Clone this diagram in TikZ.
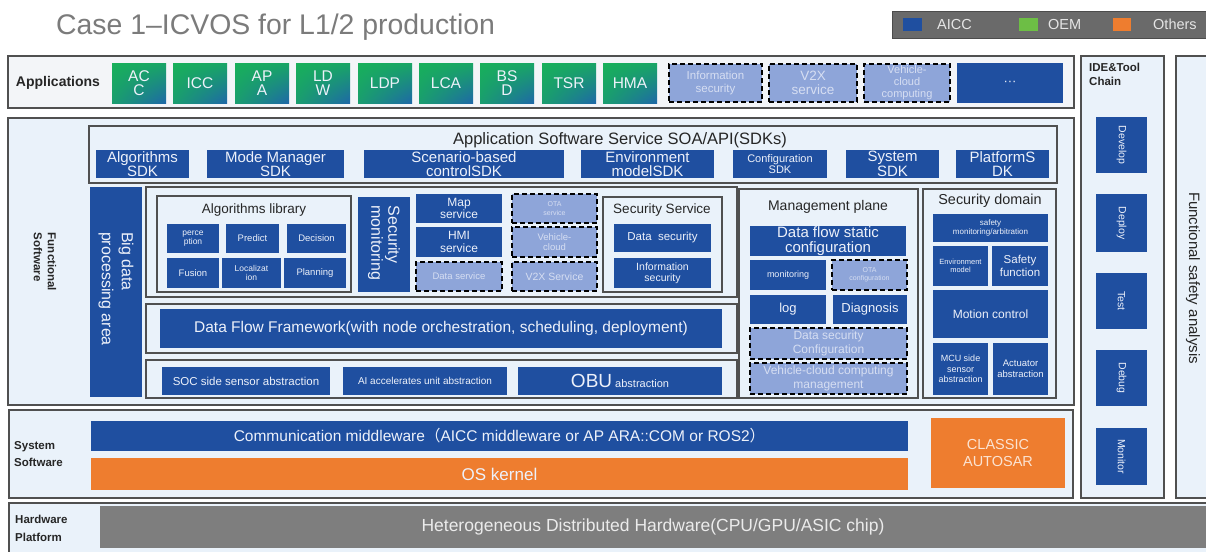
\documentclass[tikz,border=0pt]{standalone}
\usepackage{fontspec}
\setmainfont{Liberation Sans}
\newfontfamily\cjk{Noto Sans CJK SC}
\usetikzlibrary{shadings}

\definecolor{aicc}{HTML}{1F4FA0}
\definecolor{oemgreen}{HTML}{6DBE45}
\definecolor{others}{HTML}{EE7D2F}
\definecolor{dashfill}{HTML}{8EA5D9}
\definecolor{dashtext}{HTML}{D6DEF2}
\definecolor{panelbg}{HTML}{EAF2FA}
\definecolor{appbg}{HTML}{F3F5F8}
\definecolor{edge}{HTML}{505050}
\definecolor{hwgray}{HTML}{7E7E7E}
\definecolor{legendgray}{HTML}{6A6A6A}
\definecolor{titlegray}{HTML}{7B7B7B}
\definecolor{appgreen}{HTML}{18B05A}
\definecolor{appteal}{HTML}{1E68A8}
\definecolor{boxtext}{HTML}{EDF1FA}
\definecolor{inktext}{HTML}{262626}
\definecolor{autosartext}{HTML}{FBE3D2}

\newcommand\fs[2]{\fontsize{#1}{#2}\selectfont}

% box from (x1,y1) to (x2,y2) in pixel units, with a centred label node
% #1 box style, #2 label style, #3 name, #4..#7 corners, #8 label
\newcommand\bx[8]{%
  \node[#1,anchor=north west,inner sep=0pt,outer sep=0pt,
        minimum width={(#6-#4)*1pt},minimum height={(#7-#5)*1pt}] (#3) at (#4,#5) {};
  \node[#2] (#3-t) at (#3.center) {#8};}

\tikzset{
  panel/.style={draw=edge,line width=1.3pt,fill=panelbg},
  apppanel/.style={draw=edge,line width=1.3pt,fill=appbg},
  bbox/.style={fill=aicc},
  obox/.style={fill=others},
  dbox/.style={fill=dashfill,draw=black,line width=1.5pt,dash pattern=on 5pt off 3pt},
  gbox/.style={upper left=appgreen,upper right=appgreen!85!appteal,
               lower left=appgreen!75!appteal,lower right=appteal},
  wt/.style={text=boxtext,align=center,inner sep=0pt},
  dt/.style={text=dashtext,align=center,inner sep=0pt},
  kt/.style={text=inktext,align=center,inner sep=0pt},
  none/.style={},
}

\begin{document}
\begin{tikzpicture}[x=1pt,y=-1pt]
\useasboundingbox[fill=white] (0,0) rectangle (1206,551);

% ---------- heading and legend ----------
\node[anchor=base west,text=titlegray,font=\fs{28.4}{32},inner sep=0pt] (title) at (56,35)
  {Case 1–ICVOS for L1/2 production};
\bx{fill=legendgray,draw=black!70}{none}{legend}{892}{11}{1212}{38}{}
\bx{fill=aicc}{none}{lgA}{903}{18}{922}{31}{}
\bx{fill=oemgreen}{none}{lgO}{1019}{18}{1038}{31}{}
\bx{fill=others}{none}{lgX}{1113}{18}{1131}{31}{}
\node[anchor=west,text=white!90!black,font=\fs{14.5}{16},inner sep=0pt] (lgAt) at (937,24.5) {AICC};
\node[anchor=west,text=white!90!black,font=\fs{14.5}{16},inner sep=0pt] (lgOt) at (1048,24.5) {OEM};
\node[anchor=west,text=white!90!black,font=\fs{14.5}{16},inner sep=0pt] (lgXt) at (1153,24.5) {Others};

% ---------- Applications ----------
\bx{apppanel}{none}{apps}{8}{56}{1074}{108}{}
\node[kt,font=\bfseries\fs{14}{16}] (appslbl) at (58,83) {Applications};
\bx{gbox}{wt,font=\fs{15.5}{14}}{acc}{112}{63}{166}{103}{AC\\C}
\bx{gbox}{wt,font=\fs{15.5}{14}}{icc}{173}{63}{227}{103}{ICC}
\bx{gbox}{wt,font=\fs{15.5}{14}}{apa}{235}{63}{289}{103}{AP\\A}
\bx{gbox}{wt,font=\fs{15.5}{14}}{ldw}{296}{63}{350}{103}{LD\\W}
\bx{gbox}{wt,font=\fs{15.5}{14}}{ldp}{358}{63}{412}{103}{LDP}
\bx{gbox}{wt,font=\fs{15.5}{14}}{lca}{419}{63}{473}{103}{LCA}
\bx{gbox}{wt,font=\fs{15.5}{14}}{bsd}{480}{63}{534}{103}{BS\\D}
\bx{gbox}{wt,font=\fs{15.5}{14}}{tsr}{542}{63}{596}{103}{TSR}
\bx{gbox}{wt,font=\fs{15.5}{14}}{hma}{603}{63}{657}{103}{HMA}
\bx{dbox}{dt,font=\fs{11.5}{13}}{infosec}{669}{64}{762}{102}{Information\\security}
\bx{dbox}{dt,font=\fs{13.5}{14}}{v2x}{769}{64}{857}{102}{V2X\\service}
\bx{dbox}{dt,font=\fs{11}{12}}{vcc}{864}{64}{950}{102}{Vehicle-\\cloud\\computing}
\bx{bbox}{wt,font=\fs{13}{14}}{more}{957}{63}{1063}{103}{···}

% ---------- tool chain and safety columns ----------
\bx{panel}{none}{ide}{1081}{56}{1164}{498}{}
\node[kt,anchor=north west,align=left,font=\bfseries\fs{11.5}{13.5}] (idelbl) at (1089,63) {IDE\&Tool\\Chain};
\bx{bbox}{wt,rotate=-90,font=\fs{10.5}{12}}{develop}{1096}{117}{1147}{173}{Develop}
\bx{bbox}{wt,rotate=-90,font=\fs{10.5}{12}}{deploy}{1096}{194}{1147}{252}{Deploy}
\bx{bbox}{wt,rotate=-90,font=\fs{10.5}{12}}{test}{1096}{273}{1147}{329}{Test}
\bx{bbox}{wt,rotate=-90,font=\fs{10.5}{12}}{debug}{1096}{350}{1147}{406}{Debug}
\bx{bbox}{wt,rotate=-90,font=\fs{10.5}{12}}{monitor}{1096}{428}{1147}{485}{Monitor}
\bx{panel}{none}{fsa}{1176}{56}{1214}{498}{}
\node[kt,rotate=-90,font=\fs{15}{17}] (fsalbl) at (1193,278) {Functional safety analysis};

% ---------- Functional software ----------
\bx{panel}{none}{func}{8}{118}{1074}{405}{}
\node[kt,rotate=-90,align=left,font=\bfseries\fs{11.5}{14}] (funclbl) at (45,262) {Functional\\Software};

\bx{panel}{none}{soa}{89}{126}{1057}{183}{}
\node[kt,font=\fs{16.5}{18}] (soalbl) at (620,140) {Application Software Service SOA/API(SDKs)};
\bx{bbox}{wt,font=\fs{15}{13.5}}{algsdk}{96}{150}{189}{178}{Algorithms\\SDK}
\bx{bbox}{wt,font=\fs{15}{13.5}}{modesdk}{207}{150}{344}{178}{Mode Manager\\SDK}
\bx{bbox}{wt,font=\fs{15}{13.5}}{scensdk}{364}{150}{564}{178}{Scenario-based\\controlSDK}
\bx{bbox}{wt,font=\fs{15}{13.5}}{envsdk}{581}{150}{714}{178}{Environment\\modelSDK}
\bx{bbox}{wt,font=\fs{11}{11}}{cfgsdk}{733}{150}{827}{178}{Configuration\\SDK}
\bx{bbox}{wt,font=\fs{15}{13.5}}{syssdk}{846}{150}{939}{178}{System\\SDK}
\bx{bbox}{wt,font=\fs{15}{13.5}}{platsdk}{956}{150}{1049}{178}{PlatformS\\DK}

\bx{bbox}{none}{bigdata}{90}{187}{142}{397}{}
\node[wt,rotate=-90,align=left,font=\fs{16}{20}] (bigdatalbl) at (116,289) {Big data\\processing area};

% services
\bx{panel}{none}{svc}{146}{187}{737}{297}{}
\bx{panel}{none}{alglib}{157}{196}{351}{292}{}
\node[kt,font=\fs{13.5}{15}] (alglibt) at (254,210) {Algorithms library};
\bx{bbox}{wt,font=\fs{8.5}{9.5}}{percep}{167}{224}{219}{253}{perce\\ption}
\bx{bbox}{wt,font=\fs{9.5}{10}}{predict}{226}{224}{279}{253}{Predict}
\bx{bbox}{wt,font=\fs{9.5}{10}}{decision}{287}{224}{346}{253}{Decision}
\bx{bbox}{wt,font=\fs{9.5}{10}}{fusion}{167}{258}{219}{288}{Fusion}
\bx{bbox}{wt,font=\fs{8.5}{9.5}}{localiz}{222}{258}{281}{288}{Localizat\\ion}
\bx{bbox}{wt,font=\fs{9.5}{10}}{planning}{284}{258}{346}{288}{Planning}

\bx{bbox}{none}{secmon}{358}{197}{410}{292}{}
\node[wt,rotate=-90,align=left,font=\fs{16}{17}] (secmonlbl) at (384,243) {Security\\monitoring};

\bx{bbox}{wt,font=\fs{12}{12.5}}{mapsvc}{416}{194}{502}{223}{Map\\service}
\bx{bbox}{wt,font=\fs{12}{12.5}}{hmisvc}{416}{227}{502}{257}{HMI\\service}
\bx{dbox}{dt,font=\fs{9.5}{10}}{datasvc}{416}{262}{502}{291}{Data service}
\bx{dbox}{dt,font=\fs{7}{8.5}}{otasvc}{512}{194}{597}{223}{OTA\\service}
\bx{dbox}{dt,font=\fs{9.5}{10}}{vcloud}{512}{227}{597}{257}{Vehicle-\\cloud}
\bx{dbox}{dt,font=\fs{10.5}{11}}{v2xsvc}{512}{262}{597}{291}{V2X Service}

\bx{panel}{none}{secsvc}{603}{197}{722}{292}{}
\node[kt,font=\fs{13.5}{15}] (secsvct) at (662,210) {Security Service};
\bx{bbox}{wt,font=\fs{11.5}{12}}{datasec}{614}{224}{711}{252}{Data\ \ security}
\bx{bbox}{wt,font=\fs{10.5}{11}}{infsec}{614}{258}{711}{288}{Information\\security}

\bx{panel}{none}{dffbox}{146}{304}{737}{353}{}
\bx{bbox}{wt,font=\fs{15.5}{17}}{dff}{160}{309}{722}{348}{Data Flow Framework(with node orchestration, scheduling, deployment)}

\bx{panel}{none}{absbox}{146}{360}{737}{398}{}
\bx{bbox}{wt,font=\fs{11.5}{12}}{soc}{162}{367}{330}{395}{SOC side sensor abstraction}
\bx{bbox}{wt,font=\fs{10}{11}}{aiacc}{343}{367}{507}{395}{AI accelerates unit abstraction}
\bx{bbox}{wt,font=\fs{11}{12}}{obu}{518}{367}{722}{395}{{\fs{19}{20}OBU} abstraction}

% management plane
\bx{panel}{none}{mgmt}{739}{189}{918}{398}{}
\node[kt,font=\fs{14}{16}] (mgmtt) at (828,207) {Management plane};
\bx{bbox}{wt,font=\fs{15}{15}}{dfstatic}{750}{226}{906}{256}{Data flow static\\configuration}
\bx{bbox}{wt,font=\fs{9}{10}}{mgmon}{750}{260}{826}{290}{monitoring}
\bx{dbox}{dt,font=\fs{7}{8}}{otacfg}{832}{260}{907}{290}{OTA\\configuration}
\bx{bbox}{wt,font=\fs{13}{14}}{log}{750}{295}{826}{324}{log}
\bx{bbox}{wt,font=\fs{13}{14}}{diag}{833}{295}{907}{324}{Diagnosis}
\bx{dbox}{dt,font=\fs{12}{13.5}}{dscfg}{750}{328}{907}{359}{Data security\\Configuration}
\bx{dbox}{dt,font=\fs{12}{13.5}}{vccm}{750}{363}{907}{394}{Vehicle-cloud computing\\management}

% security domain
\bx{panel}{none}{secdom}{923}{189}{1056}{398}{}
\node[kt,font=\fs{14.4}{16}] (secdomt) at (990,201) {Security domain};
\bx{bbox}{wt,font=\fs{8}{9}}{safemon}{933}{214}{1048}{242}{safety\\monitoring/arbitration}
\bx{bbox}{wt,font=\fs{7.5}{8.5}}{envmodel}{933}{246}{988}{286}{Environment\\model}
\bx{bbox}{wt,font=\fs{11.5}{13}}{safefn}{992}{246}{1048}{286}{Safety\\function}
\bx{bbox}{wt,font=\fs{12}{13}}{motion}{933}{290}{1048}{338}{Motion control}
\bx{bbox}{wt,font=\fs{9}{10.5}}{mcusens}{933}{343}{988}{395}{MCU side\\sensor\\abstraction}
\bx{bbox}{wt,font=\fs{9.5}{11}}{actuator}{993}{343}{1048}{395}{Actuator\\abstraction}

% ---------- System software ----------
\bx{panel}{none}{sys}{9}{410}{1073}{498}{}
\node[kt,anchor=west,align=left,font=\bfseries\fs{11.5}{17}] (syslbl) at (14,454) {System\\Software};
\bx{bbox}{wt,font=\fs{15.5}{17}}{comm}{91}{421}{908}{451}{Communication middleware{\cjk （}AICC middleware or AP ARA::COM or ROS2{\cjk ）}}
\bx{obox}{wt,font=\fs{17}{18}}{oskernel}{91}{458}{908}{490}{OS kernel}
\bx{obox}{text=autosartext,align=center,inner sep=0pt,font=\fs{14.5}{16.5}}{autosar}{931}{418}{1065}{488}{CLASSIC\\AUTOSAR}

% ---------- Hardware platform ----------
\bx{panel}{none}{hw}{9}{503}{1214}{556}{}
\node[kt,anchor=west,align=left,font=\bfseries\fs{11.5}{18}] (hwlbl) at (15,528) {Hardware\\Platform};
\bx{fill=hwgray}{none}{hwbar}{100}{506}{1214}{548}{}
\node[text=white!92!black,font=\fs{17.5}{19},inner sep=0pt] (hwbarlbl) at (653,527) {Heterogeneous Distributed Hardware(CPU/GPU/ASIC chip)};

\end{tikzpicture}
\end{document}
